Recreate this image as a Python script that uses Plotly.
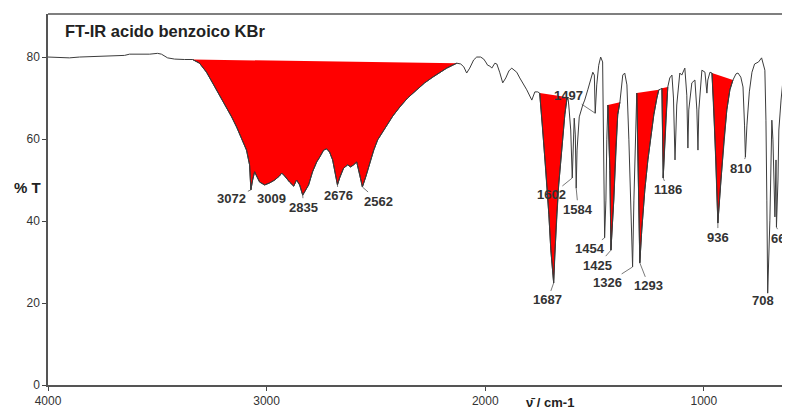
import plotly.graph_objects as go

# ---- spectrum data (wavenumber cm-1, %T) ----
wavenumber = [
    4000, 3947, 3902, 3856, 3810, 3764, 3719, 3673, 3650, 3627, 3581, 3535, 3499, 3481, 3453, 3421, 3375,
    3339, 3307, 3275, 3247, 3215, 3183, 3160, 3137, 3114, 3092, 3078, 3075, 3072, 3064, 3055, 3046, 3032,
    3009, 2986, 2963, 2941, 2931, 2918, 2895, 2876, 2863, 2849, 2835, 2808, 2790, 2771, 2757, 2739, 2725,
    2712, 2698, 2689, 2676, 2666, 2648, 2629, 2616, 2602, 2588, 2574, 2562, 2547, 2529, 2510, 2492, 2469,
    2451, 2423, 2391, 2355, 2313, 2277, 2240, 2208, 2176, 2149, 2130,
    2112, 2098, 2085, 2071, 2053, 2039, 2021, 2007, 1998, 1989, 1979, 1970, 1956, 1947, 1934, 1920, 1906,
    1892, 1879, 1865, 1856, 1842, 1828, 1810, 1787, 1773, 1760,
    1751, 1737, 1723, 1709, 1700, 1687, 1682, 1673, 1664, 1654, 1645, 1636, 1627, 1622,
    1618, 1609, 1602, 1597, 1593, 1588, 1584, 1580, 1570, 1554, 1545, 1531, 1518, 1508, 1501, 1497, 1490,
    1481, 1472, 1463, 1454, 1448, 1444,
    1439, 1430, 1425, 1412, 1403, 1394, 1384,
    1375, 1371, 1362, 1352, 1343, 1334, 1326, 1320, 1311,
    1307, 1302, 1297, 1293, 1284, 1270, 1256, 1242, 1229, 1215, 1206,
    1197, 1192, 1186, 1174, 1165,
    1156, 1146, 1139, 1132, 1124, 1110, 1101, 1087, 1078, 1073, 1069, 1055, 1041, 1032, 1027, 1023, 1009,
    995, 986, 982, 972,
    963, 954, 945, 936, 922, 908, 895, 881, 867,
    853, 844, 831, 821, 814, 810, 803, 792, 780, 768, 750, 736, 721, 716, 712, 708, 698, 693, 689, 684,
    680, 675, 670, 668, 661, 657, 647, 638, 629, 615, 606,
]
transmittance = [
    80.0, 79.9, 79.8, 80.0, 80.1, 80.2, 80.4, 80.5, 80.4, 80.7, 80.7, 80.7, 80.9, 80.7, 79.8, 79.5, 79.4,
    79.4, 78.5, 76.3, 73.7, 70.7, 67.8, 65.4, 62.9, 60.2, 57.3, 53.7, 51.2, 47.6, 50.0, 52.0, 51.0, 49.5,
    48.8, 49.3, 50.0, 51.0, 51.7, 51.0, 49.5, 48.5, 50.0, 48.8, 46.3, 48.8, 52.0, 54.4, 55.6, 57.3, 57.6,
    56.8, 54.9, 52.0, 48.8, 50.5, 52.9, 53.7, 53.2, 53.7, 54.4, 51.2, 48.3, 50.7, 54.1, 57.3, 59.8, 61.7,
    63.4, 65.6, 67.8, 70.0, 72.0, 73.7, 75.1, 76.3, 77.3, 78.0, 78.5,
    78.3, 77.6, 76.1, 77.3, 79.3, 80.0, 80.0, 79.5, 78.8, 78.0, 77.8, 77.3, 78.5, 78.3, 76.3, 73.7, 74.9,
    76.6, 77.3, 76.8, 76.3, 74.9, 73.7, 72.0, 69.5, 71.5, 71.5,
    71.2, 62.2, 52.4, 41.5, 32.9, 24.9, 31.7, 41.5, 48.8, 54.9, 61.0, 65.9, 69.5, 70.2,
    68.3, 62.2, 50.5, 59.8, 65.1, 61.0, 48.0, 57.3, 65.4, 68.3, 69.5, 72.0, 74.4, 76.3, 75.6, 66.3, 73.2,
    78.0, 80.0, 78.8, 35.9, 45.1, 59.8,
    68.3, 52.4, 32.9, 45.1, 57.3, 65.9, 69.0,
    74.4, 75.6, 76.1, 73.2, 59.8, 40.2, 28.8, 45.1, 64.6,
    71.2, 57.3, 40.2, 29.8, 37.8, 47.6, 54.9, 61.0, 65.9, 70.0, 72.0,
    72.2, 72.4, 50.5, 64.6, 72.7,
    74.9, 75.6, 70.0, 54.9, 68.3, 76.1, 75.6, 77.3, 70.7, 57.8, 67.1, 73.7, 74.4, 67.1, 57.3, 67.1, 76.8,
    76.3, 71.2, 74.4, 76.3,
    76.1, 67.1, 54.9, 39.5, 50.0, 59.8, 67.1, 72.0, 74.4,
    75.9, 76.1, 75.1, 72.7, 63.4, 55.6, 63.4, 71.5, 76.3, 78.3, 78.8, 79.8, 76.8, 64.6, 45.1, 22.4, 40.2,
    57.3, 64.6, 59.8, 50.0, 41.0, 54.9, 38.5, 50.0, 62.2, 69.5, 74.4, 76.8, 79.8, 80.5,
]

# shaded (red) absorption bands: (start wavenumber, end wavenumber)
band_start = [3339, 1751, 1439, 1307, 1192, 963]
band_end = [2130, 1622, 1384, 1206, 1165, 867]

# labelled peaks
peak_labels = [3072, 3009, 2835, 2676, 2562, 1687, 1602, 1584, 1497, 1454, 1425, 1326, 1293, 1186, 936, 810, 708, 668]

x_ticks = [4000, 3000, 2000, 1000]
y_ticks = [0, 20, 40, 60, 80]

# label offsets (pixels) - styling
label_offsets = {
    3072: (-19, 9), 3009: (7, 14), 2835: (1, 12), 2676: (1, 11), 2562: (16, 14),
    1687: (-6, 17), 1602: (-21, 17), 1584: (2, 21), 1497: (-27, -18), 1454: (-15, 11),
    1425: (-13, 15), 1326: (-25, 16), 1293: (9, 23), 1186: (5, 12), 936: (0, 14),
    810: (-4, 11), 708: (-5, 7), 668: (6, 11),
}

FONT = "Liberation Sans, Arial, sans-serif"
fig = go.Figure()

for w0, w1 in zip(band_start, band_end):
    xs = [w for w in wavenumber if w1 <= w <= w0]
    ys = [t for w, t in zip(wavenumber, transmittance) if w1 <= w <= w0]
    fig.add_trace(go.Scatter(x=xs, y=ys, fill="toself", fillcolor="#ff0000", mode="lines",
                             line=dict(color="#222222", width=0.9), hoverinfo="skip", showlegend=False))

fig.add_trace(go.Scatter(x=wavenumber, y=transmittance, mode="lines",
                         line=dict(color="#3c3c3c", width=1), showlegend=False))

lookup = dict(zip(wavenumber, transmittance))
for p in peak_labels:
    ax, ay = label_offsets[p]
    fig.add_annotation(x=p, y=lookup[p], text=str(p), showarrow=True, arrowhead=0, arrowwidth=0.8,
                       arrowcolor="#555555", ax=ax, ay=ay,
                       font=dict(family=FONT, size=13, color="#333333", weight="bold"))

fig.add_annotation(xref="paper", yref="paper", x=0.02, y=0.954, xanchor="left", yanchor="middle",
                   text="FT-IR acido benzoico KBr", showarrow=False,
                   font=dict(family=FONT, size=16.5, color="#222222", weight="bold"))
fig.add_annotation(xref="paper", yref="paper", x=-0.049, y=0.531, xanchor="left", yanchor="middle",
                   text="% T", showarrow=False,
                   font=dict(family=FONT, size=15, color="#222222", weight="bold"))
fig.add_annotation(xref="paper", yref="paper", x=0.6765, y=-0.046, xanchor="center", yanchor="middle",
                   text="\u03bd\u0304 / cm-1", showarrow=False,
                   font=dict(family=FONT, size=13, color="#222222", weight="bold"))

fig.add_shape(type="line", xref="paper", yref="paper", x0=0, x1=1, y0=1, y1=1,
              line=dict(color="#555555", width=1.5))

fig.update_xaxes(range=[4000, 606], tickvals=x_ticks, ticks="outside", ticklen=4, tickcolor="#444",
                 showline=True, linecolor="#555555", linewidth=1.5, showgrid=False, zeroline=False,
                 tickfont=dict(family=FONT, size=12, color="#333333"))
fig.update_yaxes(range=[0, 90.5], tickvals=y_ticks, ticks="outside", ticklen=4, tickcolor="#444",
                 showline=True, linecolor="#555555", linewidth=1.5, showgrid=False, zeroline=False,
                 tickfont=dict(family=FONT, size=12, color="#333333"))

# page body has an 8px default margin: figure is sized to fill the 790x410 window exactly
fig.update_layout(width=782, height=402, margin=dict(l=40, r=0, t=6, b=25),
                  plot_bgcolor="white", paper_bgcolor="white", showlegend=False)

fig.write_html("out.html")
